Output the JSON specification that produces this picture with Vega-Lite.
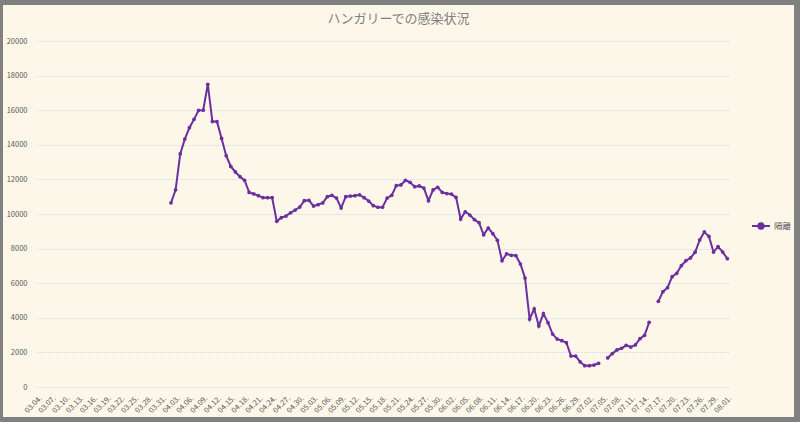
{
  "$schema": "https://vega.github.io/schema/vega-lite/v6.json",
  "width": 791,
  "height": 412,
  "autosize": {"type": "none"},
  "padding": {"left": 3, "top": 5, "right": 6, "bottom": 5},
  "background": "#808080",
  "config": {
    "view": {"fill": "#FDF7EA", "stroke": null},
    "font": "Noto Sans CJK JP"
  },
  "title": {
    "text": "ハンガリーでの感染状況",
    "fontSize": 13,
    "fontWeight": "normal",
    "color": "#7F7F7F",
    "frame": "group",
    "anchor": "middle",
    "baseline": "alphabetic",
    "offset": -19,
    "dy": 12,
    "font": "Noto Sans CJK JP"
  },
  "data": {
    "values": [
      {"d": "03.04", "v": null, "s": "隔離"}, {"d": "03.05", "v": null, "s": "隔離"}, {"d": "03.06", "v": null, "s": "隔離"},
      {"d": "03.07", "v": null, "s": "隔離"}, {"d": "03.08", "v": null, "s": "隔離"}, {"d": "03.09", "v": null, "s": "隔離"},
      {"d": "03.10", "v": null, "s": "隔離"}, {"d": "03.11", "v": null, "s": "隔離"}, {"d": "03.12", "v": null, "s": "隔離"},
      {"d": "03.13", "v": null, "s": "隔離"}, {"d": "03.14", "v": null, "s": "隔離"}, {"d": "03.15", "v": null, "s": "隔離"},
      {"d": "03.16", "v": null, "s": "隔離"}, {"d": "03.17", "v": null, "s": "隔離"}, {"d": "03.18", "v": null, "s": "隔離"},
      {"d": "03.19", "v": null, "s": "隔離"}, {"d": "03.20", "v": null, "s": "隔離"}, {"d": "03.21", "v": null, "s": "隔離"},
      {"d": "03.22", "v": null, "s": "隔離"}, {"d": "03.23", "v": null, "s": "隔離"}, {"d": "03.24", "v": null, "s": "隔離"},
      {"d": "03.25", "v": null, "s": "隔離"}, {"d": "03.26", "v": null, "s": "隔離"}, {"d": "03.27", "v": null, "s": "隔離"},
      {"d": "03.28", "v": null, "s": "隔離"}, {"d": "03.29", "v": null, "s": "隔離"}, {"d": "03.30", "v": null, "s": "隔離"},
      {"d": "03.31", "v": null, "s": "隔離"}, {"d": "04.01", "v": null, "s": "隔離"},
      {"d": "04.02", "v": 10650, "s": "隔離"}, {"d": "04.03", "v": 11400, "s": "隔離"}, {"d": "04.04", "v": 13470, "s": "隔離"},
      {"d": "04.05", "v": 14330, "s": "隔離"}, {"d": "04.06", "v": 14990, "s": "隔離"}, {"d": "04.07", "v": 15470, "s": "隔離"},
      {"d": "04.08", "v": 15990, "s": "隔離"}, {"d": "04.09", "v": 16000, "s": "隔離"}, {"d": "04.10", "v": 17500, "s": "隔離"},
      {"d": "04.11", "v": 15340, "s": "隔離"}, {"d": "04.12", "v": 15340, "s": "隔離"}, {"d": "04.13", "v": 14370, "s": "隔離"},
      {"d": "04.14", "v": 13370, "s": "隔離"}, {"d": "04.15", "v": 12750, "s": "隔離"}, {"d": "04.16", "v": 12430, "s": "隔離"},
      {"d": "04.17", "v": 12160, "s": "隔離"}, {"d": "04.18", "v": 11950, "s": "隔離"}, {"d": "04.19", "v": 11250, "s": "隔離"},
      {"d": "04.20", "v": 11160, "s": "隔離"}, {"d": "04.21", "v": 11060, "s": "隔離"}, {"d": "04.22", "v": 10940, "s": "隔離"},
      {"d": "04.23", "v": 10940, "s": "隔離"}, {"d": "04.24", "v": 10940, "s": "隔離"}, {"d": "04.25", "v": 9580, "s": "隔離"},
      {"d": "04.26", "v": 9790, "s": "隔離"}, {"d": "04.27", "v": 9880, "s": "隔離"}, {"d": "04.28", "v": 10070, "s": "隔離"},
      {"d": "04.29", "v": 10230, "s": "隔離"}, {"d": "04.30", "v": 10400, "s": "隔離"}, {"d": "05.01", "v": 10770, "s": "隔離"},
      {"d": "05.02", "v": 10790, "s": "隔離"}, {"d": "05.03", "v": 10460, "s": "隔離"}, {"d": "05.04", "v": 10540, "s": "隔離"},
      {"d": "05.05", "v": 10640, "s": "隔離"}, {"d": "05.06", "v": 11000, "s": "隔離"}, {"d": "05.07", "v": 11080, "s": "隔離"},
      {"d": "05.08", "v": 10920, "s": "隔離"}, {"d": "05.09", "v": 10350, "s": "隔離"}, {"d": "05.10", "v": 11000, "s": "隔離"},
      {"d": "05.11", "v": 11040, "s": "隔離"}, {"d": "05.12", "v": 11060, "s": "隔離"}, {"d": "05.13", "v": 11110, "s": "隔離"},
      {"d": "05.14", "v": 10940, "s": "隔離"}, {"d": "05.15", "v": 10750, "s": "隔離"}, {"d": "05.16", "v": 10480, "s": "隔離"},
      {"d": "05.17", "v": 10390, "s": "隔離"}, {"d": "05.18", "v": 10390, "s": "隔離"}, {"d": "05.19", "v": 10920, "s": "隔離"},
      {"d": "05.20", "v": 11080, "s": "隔離"}, {"d": "05.21", "v": 11640, "s": "隔離"}, {"d": "05.22", "v": 11680, "s": "隔離"},
      {"d": "05.23", "v": 11950, "s": "隔離"}, {"d": "05.24", "v": 11830, "s": "隔離"}, {"d": "05.25", "v": 11580, "s": "隔離"},
      {"d": "05.26", "v": 11620, "s": "隔離"}, {"d": "05.27", "v": 11500, "s": "隔離"}, {"d": "05.28", "v": 10770, "s": "隔離"},
      {"d": "05.29", "v": 11390, "s": "隔離"}, {"d": "05.30", "v": 11540, "s": "隔離"}, {"d": "05.31", "v": 11250, "s": "隔離"},
      {"d": "06.01", "v": 11180, "s": "隔離"}, {"d": "06.02", "v": 11150, "s": "隔離"}, {"d": "06.03", "v": 10960, "s": "隔離"},
      {"d": "06.04", "v": 9710, "s": "隔離"}, {"d": "06.05", "v": 10130, "s": "隔離"}, {"d": "06.06", "v": 9940, "s": "隔離"},
      {"d": "06.07", "v": 9670, "s": "隔離"}, {"d": "06.08", "v": 9500, "s": "隔離"}, {"d": "06.09", "v": 8800, "s": "隔離"},
      {"d": "06.10", "v": 9190, "s": "隔離"}, {"d": "06.11", "v": 8860, "s": "隔離"}, {"d": "06.12", "v": 8480, "s": "隔離"},
      {"d": "06.13", "v": 7300, "s": "隔離"}, {"d": "06.14", "v": 7700, "s": "隔離"}, {"d": "06.15", "v": 7610, "s": "隔離"},
      {"d": "06.16", "v": 7600, "s": "隔離"}, {"d": "06.17", "v": 7110, "s": "隔離"}, {"d": "06.18", "v": 6300, "s": "隔離"},
      {"d": "06.19", "v": 3930, "s": "隔離"}, {"d": "06.20", "v": 4510, "s": "隔離"}, {"d": "06.21", "v": 3530, "s": "隔離"},
      {"d": "06.22", "v": 4240, "s": "隔離"}, {"d": "06.23", "v": 3720, "s": "隔離"}, {"d": "06.24", "v": 3060, "s": "隔離"},
      {"d": "06.25", "v": 2770, "s": "隔離"}, {"d": "06.26", "v": 2680, "s": "隔離"}, {"d": "06.27", "v": 2560, "s": "隔離"},
      {"d": "06.28", "v": 1790, "s": "隔離"}, {"d": "06.29", "v": 1790, "s": "隔離"}, {"d": "06.30", "v": 1450, "s": "隔離"},
      {"d": "07.01", "v": 1230, "s": "隔離"}, {"d": "07.02", "v": 1230, "s": "隔離"}, {"d": "07.03", "v": 1270, "s": "隔離"},
      {"d": "07.04", "v": 1370, "s": "隔離"}, {"d": "07.05", "v": null, "s": "隔離"}, {"d": "07.06", "v": 1680, "s": "隔離"},
      {"d": "07.07", "v": 1930, "s": "隔離"}, {"d": "07.08", "v": 2140, "s": "隔離"}, {"d": "07.09", "v": 2240, "s": "隔離"},
      {"d": "07.10", "v": 2410, "s": "隔離"}, {"d": "07.11", "v": 2310, "s": "隔離"}, {"d": "07.12", "v": 2430, "s": "隔離"},
      {"d": "07.13", "v": 2790, "s": "隔離"}, {"d": "07.14", "v": 2990, "s": "隔離"}, {"d": "07.15", "v": 3740, "s": "隔離"},
      {"d": "07.16", "v": null, "s": "隔離"}, {"d": "07.17", "v": 4950, "s": "隔離"}, {"d": "07.18", "v": 5510, "s": "隔離"},
      {"d": "07.19", "v": 5740, "s": "隔離"}, {"d": "07.20", "v": 6380, "s": "隔離"}, {"d": "07.21", "v": 6570, "s": "隔離"},
      {"d": "07.22", "v": 7010, "s": "隔離"}, {"d": "07.23", "v": 7300, "s": "隔離"}, {"d": "07.24", "v": 7460, "s": "隔離"},
      {"d": "07.25", "v": 7790, "s": "隔離"}, {"d": "07.26", "v": 8500, "s": "隔離"}, {"d": "07.27", "v": 8960, "s": "隔離"},
      {"d": "07.28", "v": 8710, "s": "隔離"}, {"d": "07.29", "v": 7800, "s": "隔離"}, {"d": "07.30", "v": 8110, "s": "隔離"},
      {"d": "07.31", "v": 7800, "s": "隔離"}, {"d": "08.01", "v": 7420, "s": "隔離"}
    ]
  },
  "mark": {"type": "line", "strokeWidth": 2, "point": {"filled": true, "size": 14}},
  "encoding": {
    "x": {
      "field": "d",
      "type": "ordinal",
      "scale": {"type": "point", "range": [32.4, 726.6], "padding": 0.5},
      "axis": {
        "title": null,
        "values": ["03.04","03.07","03.10","03.13","03.16","03.19","03.22","03.25","03.28","03.31","04.03","04.06","04.09","04.12","04.15","04.18","04.21","04.24","04.27","04.30","05.03","05.06","05.09","05.12","05.15","05.18","05.21","05.24","05.27","05.30","06.02","06.05","06.08","06.11","06.14","06.17","06.20","06.23","06.26","06.29","07.02","07.05","07.08","07.11","07.14","07.17","07.20","07.23","07.26","07.29","08.01"],
        "labelExpr": "datum.label + '.'",
        "labelAngle": -45,
        "labelOverlap": false,
        "domain": false,
        "ticks": false,
        "tickSize": 0,
        "grid": false,
        "offset": -25,
        "labelPadding": 2,
        "labelFontSize": 7.5,
        "labelColor": "#595959"
      }
    },
    "y": {
      "field": "v",
      "type": "quantitative",
      "scale": {"domain": [0, 20000], "range": [382, 36], "nice": false, "zero": true},
      "axis": {
        "title": null,
        "values": [0, 2000, 4000, 6000, 8000, 10000, 12000, 14000, 16000, 18000, 20000],
        "format": "d",
        "grid": true,
        "gridColor": "#C9DCEE",
        "gridDash": [1, 1],
        "gridWidth": 1,
        "domain": false,
        "ticks": false,
        "tickSize": 0,
        "offset": -27,
        "labelPadding": 3,
        "labelFontSize": 7.5,
        "labelColor": "#595959"
      }
    },
    "color": {
      "field": "s",
      "type": "nominal",
      "scale": {"range": ["#6B2FA0"]},
      "legend": {
        "title": null,
        "orient": "none",
        "legendX": 748,
        "legendY": 211,
        "padding": 0,
        "symbolType": "M-1,0L1,0M0.3,0A0.3,0.3,0,1,1,-0.3,0A0.3,0.3,0,1,1,0.3,0Z",
        "symbolSize": 324,
        "symbolStrokeWidth": 2,
        "labelFontSize": 8.5,
        "labelColor": "#595959",
        "labelOffset": 3,
        "encode": {"symbols": {"update": {"fill": {"value": "#6B2FA0"}, "stroke": {"value": "#6B2FA0"}}}}
      }
    }
  }
}
